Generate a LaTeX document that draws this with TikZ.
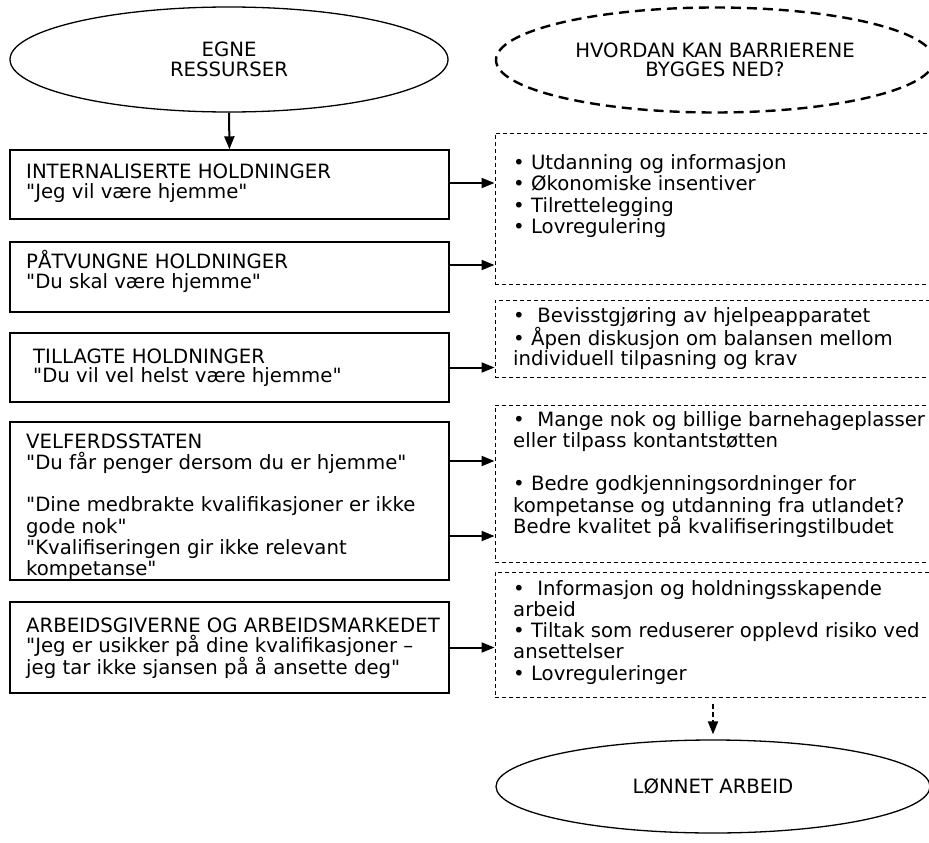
\documentclass[tikz,border=0pt]{standalone}
\usepackage{fontspec}
\setmainfont{DejaVu Sans}[Ligatures=TeXOff]
\usetikzlibrary{shapes.geometric,arrows.meta}

% multi-line text whose baseline is the first line
\newcommand\boxtext[2]{\parbox[t]{420pt}{\fontsize{19.7pt}{#1}\selectfont #2}}

\tikzset{
  oval/.style={ellipse, draw, line width=1.3pt, minimum width=438pt,
    minimum height=105pt, inner sep=0pt, align=center,
    font=\fontsize{19.7pt}{19.5pt}\selectfont},
  dashoval/.style={oval, line width=2.4pt, dash pattern=on 10pt off 6pt},
  hbox/.style={draw, line width=1.4pt, minimum width=439pt, inner sep=0pt},
  dbox/.style={draw, line width=1pt, dash pattern=on 4pt off 3pt,
    minimum width=480pt, inner sep=0pt},
  txt/.style={anchor=base west, inner sep=0pt},
  arr/.style={line width=2pt, -{Triangle[length=13pt,width=10pt]}},
  darr/.style={arr, dash pattern=on 5pt off 3pt},
}

\begin{document}
\begin{tikzpicture}[x=1pt,y=-1pt]
\useasboundingbox (0,0) rectangle (929,843);
\clip (0,0) rectangle (929,843);

% ovals
\node[oval] (egne) at (229,59.5) {EGNE\\RESSURSER};
\node[dashoval] (hvordan) at (715,60) {HVORDAN KAN BARRIERENE\\BYGGES NED?};
\node[oval, minimum width=434pt, minimum height=93pt] (lonn) at (713,786.5) {LØNNET ARBEID};

% barrier boxes
\node[hbox, minimum height=69pt] (b1) at (229.5,184.5) {};
\node[hbox, minimum height=70pt] (b2) at (229.5,277) {};
\node[hbox, minimum height=69pt] (b3) at (229.5,367.5) {};
\node[hbox, minimum height=158pt] (b4) at (229.5,501) {};
\node[hbox, minimum height=91pt] (b5) at (229.5,647.5) {};

\node[txt] (t1) at (26,178) {\boxtext{20.5pt}{INTERNALISERTE HOLDNINGER\\"Jeg vil være hjemme"}};
\node[txt] (t2) at (26,268) {\boxtext{20.5pt}{PÅTVUNGNE HOLDNINGER\\"Du skal være hjemme"}};
\node[txt] (t3) at (33,363) {\boxtext{19.5pt}{TILLAGTE HOLDNINGER\\"Du vil vel helst være hjemme"}};
\node[txt] (t4) at (26,448) {\boxtext{21.3pt}{VELFERDSSTATEN\\"Du får penger dersom du er hjemme"\\[21.3pt]"Dine medbrakte kvalifikasjoner er ikke\\gode nok"\\"Kvalifiseringen gir ikke relevant\\kompetanse"}};
\node[txt] (t5) at (26,632) {\boxtext{20.5pt}{ARBEIDSGIVERNE OG ARBEIDSMARKEDET\\"Jeg er usikker på dine kvalifikasjoner –\\jeg tar ikke sjansen på å ansette deg"}};

% measure boxes (open towards the right edge)
\node[dbox, minimum height=151pt] (dA) at (735,208.5) {};
\node[dbox, minimum height=77pt] (dB) at (735,338.5) {};
\node[dbox, minimum height=157pt] (dC) at (735,483.5) {};
\node[dbox, minimum height=125pt] (dD) at (735,634.5) {};

\node[txt] (tA) at (513,169) {\boxtext{21.5pt}{• Utdanning og informasjon\\• Økonomiske insentiver\\• Tilrettelegging\\• Lovregulering}};
\node[txt] (tB) at (513,322) {\boxtext{20.5pt}{•\ \ Bevisstgjøring av hjelpeapparatet\\• Åpen diskusjon om balansen mellom\\individuell tilpasning og krav}};
\node[txt] (tC) at (513,426) {\boxtext{21.5pt}{•\ \ Mange nok og billige barnehageplasser\\eller tilpass kontantstøtten\\[21.5pt]• Bedre godkjenningsordninger for\\kompetanse og utdanning fra utlandet?\\Bedre kvalitet på kvalifiseringstilbudet}};
\node[txt] (tD) at (513,595) {\boxtext{21.3pt}{•\ \ Informasjon og holdningsskapende\\arbeid\\• Tiltak som reduserer opplevd risiko ved\\ansettelser\\• Lovreguleringer}};

% connectors
\draw[arr] (egne.south) -- (b1.north);
\draw[arr] ([yshift=1.5pt]b1.east) -- ([yshift=1.5pt]b1.east -| dA.west);
\draw[arr] ([yshift=12pt]b2.east) -- ([yshift=12pt]b2.east -| dA.west);
\draw[arr] (b3.east) -- (b3.east -| dB.west);
\draw[arr] ([yshift=40pt]b4.east) -- ([yshift=40pt]b4.east -| dC.west);
\draw[arr] ([yshift=-35pt]b4.east) -- ([yshift=-35pt]b4.east -| dC.west);
\draw[arr] (b5.east) -- (b5.east -| dD.west);
\draw[darr, shorten <=6pt, shorten >=5pt] (dD.south -| lonn.north) -- (lonn.north);
\end{tikzpicture}
\end{document}
